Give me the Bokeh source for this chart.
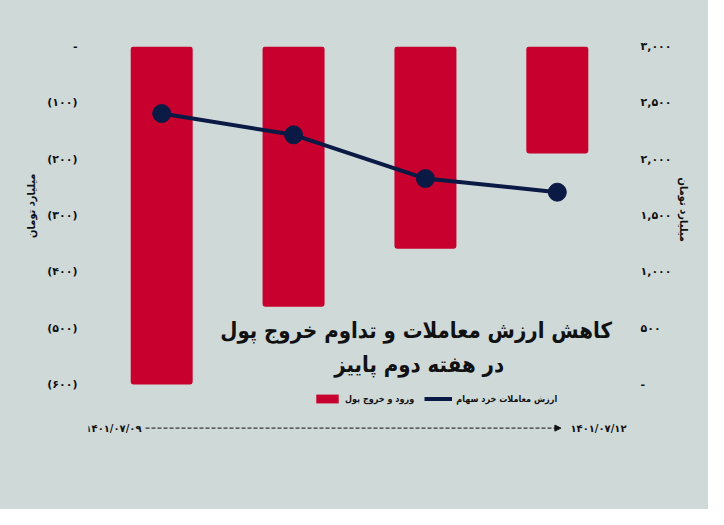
from bokeh.plotting import figure
from bokeh.models import (Range1d, FactorRange, LinearAxis, FixedTicker, Legend, LegendItem,
                          Label, Arrow, NormalHead, ColumnDataSource, Title, InlineStyleSheet)
from bokeh.embed import file_html
from bokeh.resources import INLINE

# ---- data ----
dates = ["۱۴۰۱/۰۷/۰۹", "۱۴۰۱/۰۷/۱۰", "۱۴۰۱/۰۷/۱۱", "۱۴۰۱/۰۷/۱۲"]
money_flow = [-600, -462, -359, -190]          # ورود و خروج پول (left axis)
trade_value = [2405, 2216, 1828, 1707]         # ارزش معاملات خرد سهام (right axis)
left_ticks = [0, -100, -200, -300, -400, -500, -600]
left_labels = ["-", "(۱۰۰)", "(۲۰۰)", "(۳۰۰)", "(۴۰۰)", "(۵۰۰)", "(۶۰۰)"]
right_ticks = [0, 500, 1000, 1500, 2000, 2500, 3000]
right_labels = ["-", "۵۰۰", "۱,۰۰۰", "۱,۵۰۰", "۲,۰۰۰", "۲,۵۰۰", "۳,۰۰۰"]
bar_name = "ورود و خروج پول"
line_name = "ارزش معاملات خرد سهام"
axis_title = "میلیارد تومان"
title1 = "کاهش ارزش معاملات و تداوم خروج پول"
title2 = "در هفته دوم پاییز"

BG = "#cfd9d8"
RED = "#c8002d"
NAVY = "#0b1a45"
FONT = "DejaVu Sans"
CFONT = "DejaVu Sans Condensed"
INK = "#111111"

src = ColumnDataSource(dict(d=dates, flow=money_flow, val=trade_value))

# frame extends below the value area to hold the title, legend and date row
p = figure(width=708, height=509, output_backend="svg", toolbar_location=None,
           x_range=FactorRange(*dates, range_padding=0.0275),
           y_range=Range1d(-713.6, 0),
           min_border_left=88, min_border_right=78, min_border_top=46, min_border_bottom=61)
p.stylesheets = [InlineStyleSheet(css=":host { background-color: #cfd9d8; }")]
p.extra_y_ranges = {"right": Range1d(-568, 3000)}
p.background_fill_color = BG
p.border_fill_color = BG
p.outline_line_color = None
p.grid.visible = False
p.xaxis.visible = False

bars = p.vbar(x="d", top=0, bottom="flow", width=0.47, source=src, fill_color=RED,
              line_color=None, border_radius=3)
ln = p.line(x="d", y="val", source=src, y_range_name="right", line_color=NAVY, line_width=4)
p.scatter(x="d", y="val", source=src, y_range_name="right", size=18, fill_color=NAVY,
          line_color=NAVY)

def style_axis(ax, ticks, labels, standoff):
    ax.ticker = FixedTicker(ticks=ticks)
    ax.major_label_overrides = {t: l for t, l in zip(ticks, labels)}
    ax.axis_line_color = None
    ax.major_tick_line_color = None
    ax.minor_tick_line_color = None
    ax.major_label_text_font = FONT
    ax.major_label_text_font_style = "bold"
    ax.major_label_text_font_size = "11px"
    ax.major_label_text_color = INK
    ax.major_label_standoff = standoff

style_axis(p.yaxis[0], left_ticks, left_labels, 5)
raxis = LinearAxis(y_range_name="right")
style_axis(raxis, right_ticks, right_labels, 4)
p.add_layout(raxis, "right")

p.add_layout(Title(text=axis_title, align="right", offset=127, standoff=14,
                   text_font=CFONT, text_font_style="bold", text_font_size="11px",
                   text_color=INK), "left")
p.add_layout(Title(text=axis_title, align="left", offset=131, standoff=4,
                   text_font=CFONT, text_font_style="bold", text_font_size="11px",
                   text_color=INK), "right")

legend = Legend(items=[LegendItem(label=bar_name, renderers=[bars]),
                       LegendItem(label=line_name, renderers=[ln])],
                orientation="horizontal", location=(225, 44),
                background_fill_alpha=0, border_line_color=None, padding=0, margin=0,
                spacing=10, glyph_width=28, glyph_height=11, label_height=11,
                label_standoff=4, label_text_font=CFONT, label_text_font_style="bold",
                label_text_font_size="9px", label_text_color=INK)
p.add_layout(legend, "center")

for txt, x, y in [(title1, 327.6, 118), (title2, 330.6, 84.4)]:
    p.add_layout(Label(x=x, y=y, x_units="screen", y_units="screen", text=txt,
                       text_align="center", text_baseline="middle", text_font=CFONT,
                       text_font_style="bold", text_font_size="22px", text_color=INK))

for txt, x in [(dates[0], 25), (dates[-1], 510)]:
    p.add_layout(Label(x=x, y=20.4, x_units="screen", y_units="screen", text=txt,
                       text_align="center", text_baseline="middle", text_font=FONT,
                       text_font_style="bold", text_font_size="10px", text_color=INK))
p.add_layout(Arrow(x_start=57, y_start=20.4, x_end=472.4, y_end=20.4,
                   start_units="screen", end_units="screen",
                   line_dash="4 2", line_width=1, line_color=INK,
                   end=NormalHead(size=6, fill_color=INK, line_color=INK)))

open("out.html", "w").write(file_html(p, INLINE))
